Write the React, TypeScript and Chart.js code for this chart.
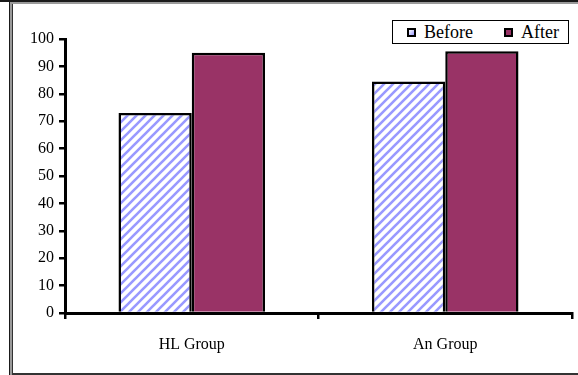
import React, { useEffect, useRef } from "react";
import { Chart, registerables } from "chart.js";

Chart.register(...registerables);

const categories = ["HL Group", "An Group"];
const seriesNames = ["Before", "After"];
const beforeValues = [73, 84.5];
const afterValues = [95, 95.5];
const yMin = 0;
const yMax = 100;
const yStep = 10;

const SERIF = "'Liberation Serif', 'Times New Roman', serif";
const AFTER_COLOR = "#993366";
const STRIPE_COLOR = "#9999ff";

function makeStripePattern(ctx: CanvasRenderingContext2D): CanvasPattern | string {
  const n = 9;
  const c = document.createElement("canvas");
  c.width = n;
  c.height = n;
  const g = c.getContext("2d");
  if (!g) return STRIPE_COLOR;
  g.fillStyle = "#ffffff";
  g.fillRect(0, 0, n, n);
  g.strokeStyle = STRIPE_COLOR;
  g.lineWidth = 2.6;
  g.beginPath();
  g.moveTo(-3, 3);
  g.lineTo(3, -3);
  g.moveTo(-1, n + 1);
  g.lineTo(n + 1, -1);
  g.moveTo(n - 3, n + 3);
  g.lineTo(n + 3, n - 3);
  g.stroke();
  return ctx.createPattern(c, "repeat") || STRIPE_COLOR;
}

export default function App() {
  const canvasRef = useRef<HTMLCanvasElement | null>(null);

  useEffect(() => {
    const canvas = canvasRef.current;
    if (!canvas) return;
    const ctx = canvas.getContext("2d");
    if (!ctx) return;
    const stripes = makeStripePattern(ctx);

    const chart = new Chart(ctx, {
      type: "bar",
      data: {
        labels: categories,
        datasets: [
          {
            label: seriesNames[0],
            data: beforeValues,
            backgroundColor: stripes as any,
            borderColor: "#000000",
            borderWidth: 2.5,
            barPercentage: 1,
            categoryPercentage: 0.578,
          },
          {
            label: seriesNames[1],
            data: afterValues,
            backgroundColor: AFTER_COLOR,
            borderColor: "#000000",
            borderWidth: 2.5,
            barPercentage: 1,
            categoryPercentage: 0.578,
          },
        ],
      },
      options: {
        animation: false,
        responsive: false,
        maintainAspectRatio: false,
        layout: { padding: { top: 39, right: 6, left: 0, bottom: 0 } },
        plugins: {
          legend: { display: false },
          tooltip: { enabled: false },
        },
        scales: {
          x: {
            offset: true,
            grid: {
              offset: true,
              drawOnChartArea: false,
              drawTicks: true,
              tickLength: 6,
              color: "#000000",
              lineWidth: 2.5,
            },
            border: { display: true, color: "#000000", width: 3 },
            ticks: {
              color: "#000000",
              font: { family: SERIF, size: 16 },
              padding: 16,
              maxRotation: 0,
            },
            afterFit: (s: any) => {
              s.height = 62;
            },
          },
          y: {
            min: yMin,
            max: yMax,
            grid: {
              drawOnChartArea: false,
              drawTicks: true,
              tickLength: 6,
              color: "#000000",
              lineWidth: 2.5,
            },
            border: { display: true, color: "#000000", width: 3 },
            ticks: {
              stepSize: yStep,
              color: "#000000",
              font: { family: SERIF, size: 16 },
              padding: 5,
            },
            afterFit: (s: any) => {
              s.width = 65;
            },
          },
        },
      },
    });

    return () => chart.destroy();
  }, []);

  const legendItem = (name: string, fill: string, marginLeft: number) => (
    <div style={{ display: "flex", alignItems: "center", marginLeft }}>
      <div
        style={{
          width: 5,
          height: 5,
          border: "2px solid #000",
          background: fill,
          marginRight: 8,
        }}
      />
      <span style={{ fontFamily: SERIF, fontSize: 18, color: "#000", lineHeight: "22px" }}>{name}</span>
    </div>
  );

  return (
    <div
      style={{
        position: "fixed",
        left: 0,
        top: 0,
        width: 578,
        height: 375,
        background: "#ffffff",
        overflow: "hidden",
      }}
    >
      <canvas
        ref={canvasRef}
        width={578}
        height={375}
        style={{ position: "absolute", left: 0, top: 0, width: 578, height: 375 }}
      />
      {/* frame */}
      <div style={{ position: "absolute", left: 0, top: 0, width: 578, height: 2, background: "#1a1a1a" }} />
      <div style={{ position: "absolute", left: 10, top: 2, width: 568, height: 2, background: "#9a9a9a" }} />
      <div style={{ position: "absolute", left: 9, top: 2, width: 1, height: 373, background: "#1a1a1a" }} />
      <div style={{ position: "absolute", left: 10, top: 2, width: 2, height: 373, background: "#9a9a9a" }} />
      <div style={{ position: "absolute", left: 12, top: 4, width: 1, height: 371, background: "#333333" }} />
      <div style={{ position: "absolute", left: 12, top: 373, width: 566, height: 2, background: "#333333" }} />
      {/* legend */}
      <div
        style={{
          position: "absolute",
          left: 392,
          top: 20,
          width: 175,
          height: 22,
          border: "1px solid #000",
          background: "#fff",
          display: "flex",
          alignItems: "center",
          boxSizing: "content-box",
        }}
      >
        {legendItem(seriesNames[0], "linear-gradient(135deg, #ffffff, #9999ff)", 14)}
        {legendItem(seriesNames[1], AFTER_COLOR, 31)}
      </div>
    </div>
  );
}
